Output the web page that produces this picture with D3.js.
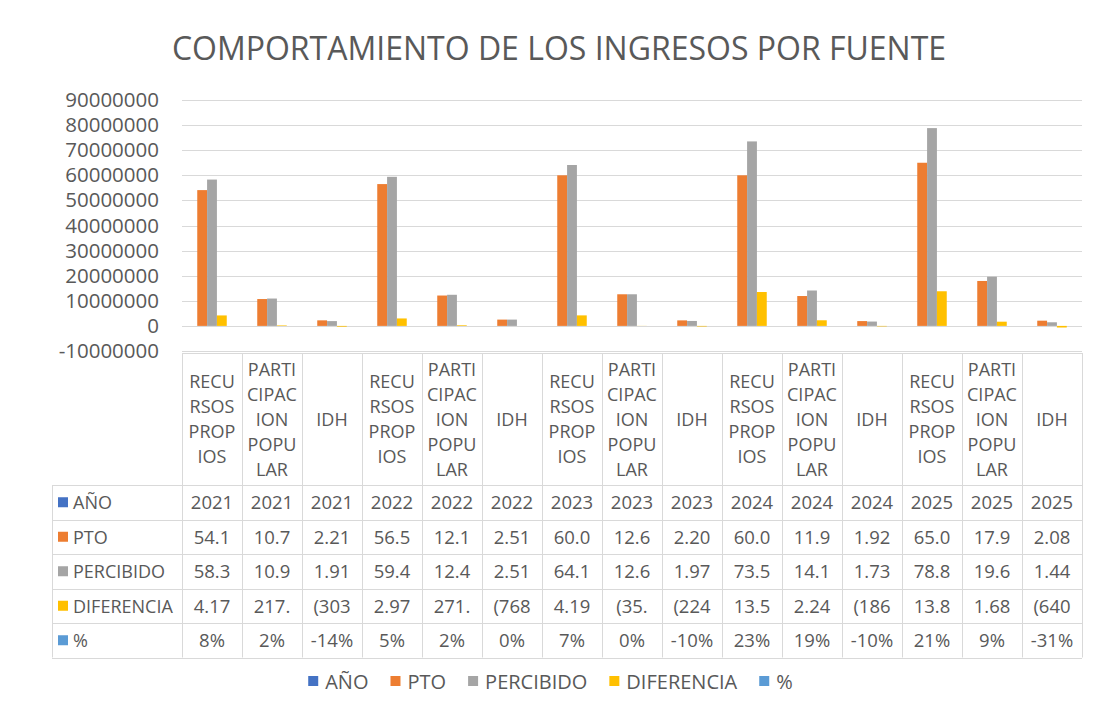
<!DOCTYPE html>
<html>
<head>
<meta charset="utf-8">
<script src="https://cdn.jsdelivr.net/npm/d3@7"></script>
<style>
  html, body { margin: 0; padding: 0; background: #fff; }
  svg { display: block; font-family: "Open Sans", sans-serif; }
</style>
</head>
<body>
<div id="chart"></div>
<script>
// Clustered columns + Excel-style data table below the plot.

const TITLE = "COMPORTAMIENTO DE LOS INGRESOS POR FUENTE";

// category header text, already wrapped the way the table shows it
const categoryLines = [
  ["RECU", "RSOS", "PROP", "IOS"],
  ["PARTI", "CIPAC", "ION", "POPU", "LAR"],
  ["IDH"],
];
const years = [2021, 2021, 2021, 2022, 2022, 2022, 2023, 2023, 2023, 2024, 2024, 2024, 2025, 2025, 2025];
const pto = [54100000, 10700000, 2210000, 56500000, 12100000, 2510000, 60000000, 12600000, 2200000,
             60000000, 11900000, 1920000, 65000000, 17900000, 2080000];
const percibido = [58300000, 10900000, 1910000, 59400000, 12400000, 2510000, 64100000, 12600000, 1970000,
                   73500000, 14100000, 1730000, 78800000, 19600000, 1440000];
const diferencia = [4170000, 217000, -303000, 2970000, 271000, -768, 4190000, -35000, -224000,
                    13500000, 2240000, -186000, 13800000, 1680000, -640000];
const pct = [0.08, 0.02, -0.14, 0.05, 0.02, 0, 0.07, 0, -0.10, 0.23, 0.19, -0.10, 0.21, 0.09, -0.31];

const yTicks = [-10000000, 0, 10000000, 20000000, 30000000, 40000000, 50000000, 60000000, 70000000, 80000000, 90000000];

const series = [
  { name: "AÑO",        values: years,      color: "#4472C4", kind: "year" },
  { name: "PTO",        values: pto,        color: "#ED7D31", kind: "money" },
  { name: "PERCIBIDO",  values: percibido,  color: "#A5A5A5", kind: "money" },
  { name: "DIFERENCIA", values: diferencia, color: "#FFC000", kind: "money" },
  { name: "%",          values: pct,        color: "#5B9BD5", kind: "pct" },
];

const W = 1097, H = 727;
const TEXT = "#595959", GRID = "#D9D9D9";
const plot = { left: 182, right: 1082, top: 100, bottom: 351 };
const table = { keyLeft: 52, headTop: 353, headBottom: 485, rowH: 34.5 };

const n = years.length;
const categories = d3.range(n);

const svg = d3.select("#chart").append("svg")
  .attr("width", W).attr("height", H)
  .attr("viewBox", `0 0 ${W} ${H}`);

svg.append("rect").attr("width", W).attr("height", H).attr("fill", "#fff");

svg.append("text")
  .attr("x", 559).attr("y", 60)
  .attr("text-anchor", "middle")
  .attr("fill", TEXT)
  .attr("font-size", 32)
  .text(TITLE);

const x0 = d3.scaleBand().domain(categories).range([plot.left, plot.right]).padding(0);
const x1 = d3.scaleBand().domain(series.map(s => s.name)).range([0, x0.bandwidth()])
  .paddingInner(0).paddingOuter(0.55);
const y = d3.scaleLinear().domain([-10000000, 90000000]).range([plot.bottom, plot.top]);

// gridlines
svg.append("g")
  .selectAll("line").data(yTicks).join("line")
  .attr("x1", plot.left).attr("x2", plot.right)
  .attr("y1", d => Math.round(y(d)) + 0.5).attr("y2", d => Math.round(y(d)) + 0.5)
  .attr("stroke", GRID).attr("stroke-width", 1);

// y axis labels only
const yAxis = svg.append("g")
  .attr("transform", `translate(${plot.left - 23},0)`)
  .call(d3.axisLeft(y).tickValues(yTicks).tickSize(0).tickPadding(0).tickFormat(d => String(d)));
yAxis.select(".domain").remove();
yAxis.selectAll("text")
  .attr("fill", TEXT).attr("font-size", 20.5)
  .attr("font-family", "'Open Sans', sans-serif");

// bars
const gBars = svg.append("g");
series.forEach(s => {
  gBars.append("g").selectAll("rect").data(s.values).join("rect")
    .attr("x", (d, i) => x0(i) + x1(s.name))
    .attr("width", x1.bandwidth())
    .attr("y", d => y(Math.max(0, d)))
    .attr("height", d => Math.abs(y(d) - y(0)))
    .attr("fill", s.color);
});

// ---- data table ----
const es = d3.formatLocale({ decimal: ",", thousands: ".", grouping: [3], currency: ["$", ""] });
const money = es.format("(,.0f");
function cellText(s, v) {
  if (s.kind === "year") return String(v);
  if (s.kind === "pct") return Math.round(v * 100) + "%";
  return money(v).slice(0, 4);   // narrow cells truncate the number
}

const gT = svg.append("g").attr("fill", TEXT);
const rowTop = i => table.headBottom + i * table.rowH;
const tableBottom = rowTop(series.length);

// borders
const edges = d3.range(n + 1).map(i => i < n ? x0(i) : plot.right);
gT.append("g").selectAll("line").data(edges).join("line")
  .attr("x1", d => Math.round(d) + 0.5).attr("x2", d => Math.round(d) + 0.5)
  .attr("y1", table.headTop).attr("y2", tableBottom)
  .attr("stroke", GRID);
gT.append("line")
  .attr("x1", table.keyLeft + 0.5).attr("x2", table.keyLeft + 0.5)
  .attr("y1", table.headBottom).attr("y2", tableBottom).attr("stroke", GRID);
gT.append("line")
  .attr("x1", plot.left).attr("x2", plot.right)
  .attr("y1", table.headTop + 0.5).attr("y2", table.headTop + 0.5).attr("stroke", GRID);
gT.append("g").selectAll("line").data(d3.range(series.length + 1)).join("line")
  .attr("x1", table.keyLeft).attr("x2", plot.right)
  .attr("y1", i => Math.round(rowTop(i)) + 0.5).attr("y2", i => Math.round(rowTop(i)) + 0.5)
  .attr("stroke", GRID);

// header labels
const headMid = (table.headTop + table.headBottom) / 2;
const lineH = 25;
categories.forEach(i => {
  const lines = categoryLines[i % 3];
  const cx = x0(i) + x0.bandwidth() / 2;
  const t = gT.append("text")
    .attr("text-anchor", "middle")
    .attr("font-size", 18);
  lines.forEach((ln, k) => {
    t.append("tspan")
      .attr("x", cx)
      .attr("y", headMid + (k - (lines.length - 1) / 2) * lineH + 6.5)
      .text(ln);
  });
});

// rows
series.forEach((s, r) => {
  const cy = rowTop(r) + table.rowH / 2 + 7;
  gT.append("rect")
    .attr("x", table.keyLeft + 6).attr("y", cy - 12)
    .attr("width", 10).attr("height", 10).attr("fill", s.color);
  gT.append("text")
    .attr("x", table.keyLeft + 21).attr("y", cy)
    .attr("font-size", 18)
    .text(s.name);
  gT.append("g").selectAll("text").data(s.values).join("text")
    .attr("x", (d, i) => x0(i) + x0.bandwidth() / 2)
    .attr("y", cy)
    .attr("text-anchor", "middle")
    .attr("font-size", 18.5)
    .text(d => cellText(s, d));
});

// legend
const gL = svg.append("g").attr("fill", TEXT);
let lx = 0;
series.forEach(s => {
  const g = gL.append("g").attr("transform", `translate(${lx},0)`);
  g.append("rect").attr("x", 0).attr("y", -13).attr("width", 10).attr("height", 10).attr("fill", s.color);
  const t = g.append("text").attr("x", 17).attr("y", 0).attr("font-size", 20).text(s.name);
  lx += 17 + t.node().getComputedTextLength() + 22;
});
const legendW = lx - 22;
gL.attr("transform", `translate(${(W - legendW) / 2 + 2},689)`);
</script>
</body>
</html>
